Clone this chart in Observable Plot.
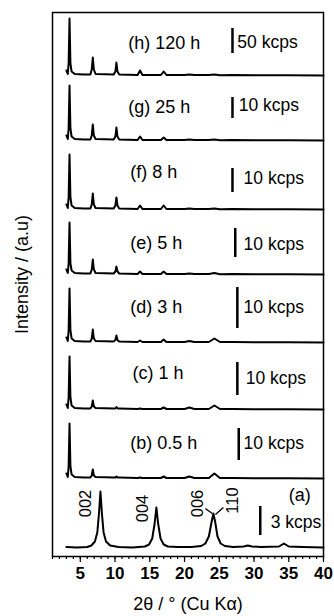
<!DOCTYPE html>
<html>
<head>
<meta charset="utf-8">
<script src="https://cdn.jsdelivr.net/npm/d3@7"></script>
<script src="https://cdn.jsdelivr.net/npm/@observablehq/plot@0.6"></script>
<style>
  html, body { margin: 0; padding: 0; background: #fff; }
  #chart svg { display: block; font-family: "Liberation Sans", Arial, sans-serif; }
</style>
</head>
<body>
<div id="chart"></div>
<script>
// ---- data ----
const samples = ["a", "b", "c", "d", "e", "f", "g", "h"];
const offsets = [8, 78, 147, 214, 282, 347, 416, 481];
const sampleLabels = ["(a)", "(b) 0.5 h", "(c) 1 h", "(d) 3 h", "(e) 5 h", "(f) 8 h", "(g) 25 h", "(h) 120 h"];
const labelX = [35.0, 12.2, 12.5, 12.2, 12.2, 12.2, 11.9, 11.9];
const labelY = [61, 113, 183, 249, 313, 384, 449, 513];
const scaleTexts = ["3 kcps", "10 kcps", "10 kcps", "10 kcps", "10 kcps", "10 kcps", "10 kcps", "50 kcps"];
const scaleTextX = [32.4, 28.5, 28.8, 28.5, 28.5, 28.5, 27.8, 27.6];
const scaleTextY = [34, 113, 178, 249, 312, 378, 451, 514];
const barX = [30.9, 27.8, 27.6, 27.6, 27.3, 26.9, 26.9, 26.9];
const barY1 = [21, 96, 161, 228, 299, 364, 438, 503];
const barY2 = [50, 128, 194, 269, 328, 388, 459, 528];

// shared 2θ grid for patterns (b)–(h)
const gridX = [3.0, 3.2, 3.32, 3.45, 3.58, 3.75, 4.2, 5.5, 6.45, 6.65, 6.8, 6.95, 7.2, 9.8, 10.05, 10.2, 10.35, 10.6, 13.25, 13.6, 13.95, 16.6, 17.0, 17.4, 20.0, 20.7, 21.4, 23.5, 24.3, 25.1, 27.0, 30.0, 35.0, 40.0];
const intB = [5, 1.5, 12, 55, 12, 4, 1.5, 1, 1, 3, 9, 3, 1.5, 1, 1, 2, 1, 1, 0.5, 1, 0.5, 0.5, 2, 0.5, 0.5, 2, 0.5, 0.5, 5, 0.5, 0.5, 0.3, 0.2, 0];
const intC = [5, 1.5, 12, 53, 12, 4, 1.5, 1, 1, 3, 9, 3, 1.5, 1, 1, 2.5, 1, 1, 0.5, 1, 0.5, 0.5, 2, 0.5, 0.5, 2, 0.5, 0.5, 4, 0.5, 0.5, 0.3, 0.2, 0];
const intD = [5, 1.5, 12, 54, 12, 4, 1.5, 1, 1, 4, 13, 4, 1.5, 1, 2.5, 7, 2.5, 1, 0.5, 2, 0.5, 0.5, 3, 0.5, 0.5, 1.5, 0.5, 0.5, 4, 0.5, 0.5, 0.3, 0.2, 0];
const intE = [5, 1.5, 11, 52, 11, 4, 1.5, 1, 1, 5, 15, 5, 1.5, 1, 3, 8, 3, 1, 0.5, 3, 0.5, 0.5, 3, 0.5, 0.5, 1, 0.5, 0.5, 1.5, 0.3, 0.5, 0.3, 0.2, 0];
const intF = [5, 1.5, 12, 55, 12, 4, 1.5, 1, 1, 5, 16, 5, 1.5, 1, 4, 12, 4, 1, 0.5, 4, 0.5, 0.5, 4, 0.5, 0.5, 1, 0.5, 0.5, 1, 0.3, 0.5, 0.3, 0.2, 0];
const intG = [5, 1.5, 12, 55, 12, 4, 1.5, 1, 1, 5, 16, 5, 1.5, 1, 4, 13, 4, 1, 0.5, 4, 0.5, 0.5, 3, 0.5, 0.5, 1, 0.5, 0.5, 1, 0.3, 0.5, 0.3, 0.2, 0];
const intH = [5, 1.5, 12, 57, 12, 4, 1.5, 1, 1, 6, 18, 6, 1.5, 1, 4, 13, 4, 1, 0.5, 5, 0.5, 0.5, 4, 0.5, 0.5, 1, 0.5, 0.5, 1, 0.3, 0.5, 0.3, 0.2, 0];

// pattern (a): its own 2θ grid
const aX = [3.0, 4.5, 6.0, 6.6, 7.1, 7.45, 7.7, 7.9, 8.1, 8.35, 8.7, 9.3, 10.5, 12.5, 14.3, 14.9, 15.35, 15.7, 15.95, 16.2, 16.55, 17.0, 17.6, 19.0, 21.0, 22.4, 23.0, 23.5, 23.85, 24.15, 24.4, 24.75, 25.2, 25.8, 27.0, 28.5, 29.1, 29.7, 31.0, 33.6, 34.3, 35.0, 37.0, 40.0];
const aY = [1.5, 1, 1.5, 3, 7, 16, 36, 57, 36, 16, 7, 3, 1.5, 1, 2, 4, 10, 25, 41, 25, 10, 4, 2, 1.5, 1.5, 2.5, 5, 12, 25, 35, 27, 12, 5, 2.5, 1.5, 2, 3, 2, 1.5, 2, 5, 2, 1.5, 1];

// reflection indices on pattern (a)
const idxText = ["002", "004", "006", "110"];
const idxX = [5.75, 13.95, 21.9, 27.0];
const idxY = [53, 48, 53, 56];
const leadX1 = [23.0, 25.6], leadY1 = [48, 49], leadX2 = [24.0, 24.45], leadY2 = [43, 42];

const xTicks = [5, 10, 15, 20, 25, 30, 35, 40];
const xMinor = d3.range(1, 41);
const xTitle = "2θ / ° (Cu Kα)";
const yTitle = "Intensity / (a.u)";

// ---- build tables ----
const ints = [null, intB, intC, intD, intE, intF, intG, intH];
const rows = [];
samples.forEach((s, i) => {
  const xs = i === 0 ? aX : gridX;
  const ys = i === 0 ? aY : ints[i];
  xs.forEach((x, j) => rows.push({sample: s, x, y: ys[j] + offsets[i]}));
});
const ann = samples.map((s, i) => ({
  label: sampleLabels[i], lx: labelX[i], ly: labelY[i],
  st: scaleTexts[i], sx: scaleTextX[i], sy: scaleTextY[i],
  bx: barX[i], by1: barY1[i], by2: barY2[i]
}));
const idx = idxText.map((t, i) => ({t, x: idxX[i], y: idxY[i]}));
const leads = leadX1.map((x1, i) => ({x1, y1: leadY1[i], x2: leadX2[i], y2: leadY2[i]}));

const font = "Liberation Sans, Arial, sans-serif";
const chart = Plot.plot({
  width: 334,
  height: 616,
  marginLeft: 52,
  marginRight: 11,
  marginTop: 12,
  marginBottom: 60,
  x: {domain: [1, 40]},
  y: {domain: [0, 544], axis: null},
  style: {fontFamily: font, background: "white", color: "black"},
  marks: [
    Plot.frame({stroke: "black", strokeWidth: 1.5}),
    Plot.axisX(xMinor, {tickSize: 3, tickFormat: () => "", label: null, strokeWidth: 1.2}),
    Plot.axisX(xTicks, {tickSize: 6, tickPadding: 4, fontSize: 17, fontWeight: "bold", label: null, strokeWidth: 1.2}),
    Plot.line(rows, {x: "x", y: "y", z: "sample", stroke: "black", strokeWidth: 2}),
    Plot.ruleX(ann, {x: "bx", y1: "by1", y2: "by2", stroke: "black", strokeWidth: 2.5}),
    Plot.text(ann, {x: "lx", y: "ly", text: "label", textAnchor: "start", fontSize: 18, fill: "black"}),
    Plot.text(ann, {x: "sx", y: "sy", text: "st", textAnchor: "start", fontSize: 17.5, fill: "black"}),
    Plot.text(idx, {x: "x", y: "y", text: "t", rotate: -90, fontSize: 16.5, fill: "black"}),
    Plot.link(leads, {x1: "x1", y1: "y1", x2: "x2", y2: "y2", stroke: "black", strokeWidth: 1.3}),
    Plot.text([xTitle], {frameAnchor: "bottom", dy: 48, lineAnchor: "middle", textAnchor: "middle", fontSize: 18, fill: "black"}),
    Plot.text([yTitle], {frameAnchor: "left", dx: -30, dy: -10, rotate: -90, textAnchor: "middle", lineAnchor: "middle", fontSize: 18, fill: "black"})
  ]
});
document.getElementById("chart").appendChild(chart);
</script>
</body>
</html>
